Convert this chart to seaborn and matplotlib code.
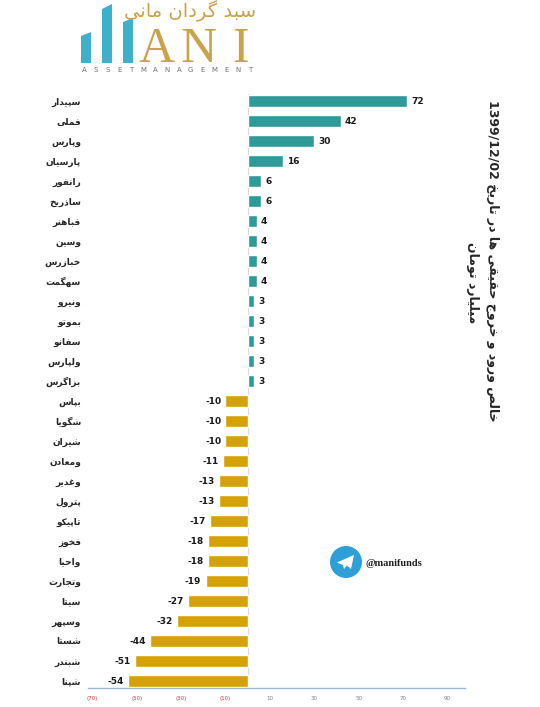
import re
import numpy as np
import pandas as pd
import seaborn as sns
import matplotlib.pyplot as plt
from matplotlib.patches import Polygon, Circle

# net flow of retail money per ticker (billion toman)
tickers = ["سپیدار", "فملی", "وپارس", "پارسیان", "رانفور", "ساذریخ", "فباهنر",
           "وسین", "خبازرس", "سهگمت", "ونیرو", "بموتو", "سفانو", "ولپارس", "بزاگرس",
           "بپاس", "شگویا", "شیران", "ومعادن", "وغدیر", "پترول", "تاپیکو", "فخوز",
           "واحیا", "وتجارت", "سیتا", "وسپهر", "شستا", "شبندر", "شپنا"]
flows = [72, 42, 30, 16, 6, 6, 4, 4, 4, 4, 3, 3, 3, 3, 3,
         -10, -10, -10, -11, -13, -13, -17, -18, -18, -19, -27, -32, -44, -51, -54]
xtick_values = [-70, -50, -30, -10, 10, 30, 50, 70, 90]

title_line1 = "خالص ورود و خروج حقیقی ها در تاریخ 1399/12/02"
title_line2 = "میلیارد تومان"
brand_fa = "سبد گردان مانی"
brand_en = "ASSETMANAGEMENT"
channel = "@manifunds"

TEAL = "#2f9a97"
GOLD = "#d4a106"
LOGO_GOLD = "#c9a24e"
LOGO_BLUE = "#3fb0cc"

# matplotlib has no arabic shaping, so do it by hand with presentation forms
FORMS = {
    "ا": "\uFE8D\uFE8E", "آ": "\uFE81\uFE82",
    "ب": "\uFE8F\uFE90\uFE91\uFE92", "پ": "\uFB56\uFB57\uFB58\uFB59",
    "ت": "\uFE95\uFE96\uFE97\uFE98", "ث": "\uFE99\uFE9A\uFE9B\uFE9C",
    "ج": "\uFE9D\uFE9E\uFE9F\uFEA0", "چ": "\uFB7A\uFB7B\uFB7C\uFB7D",
    "ح": "\uFEA1\uFEA2\uFEA3\uFEA4", "خ": "\uFEA5\uFEA6\uFEA7\uFEA8",
    "د": "\uFEA9\uFEAA", "ذ": "\uFEAB\uFEAC", "ر": "\uFEAD\uFEAE",
    "ز": "\uFEAF\uFEB0", "ژ": "\uFB8A\uFB8B",
    "س": "\uFEB1\uFEB2\uFEB3\uFEB4", "ش": "\uFEB5\uFEB6\uFEB7\uFEB8",
    "ص": "\uFEB9\uFEBA\uFEBB\uFEBC", "ض": "\uFEBD\uFEBE\uFEBF\uFEC0",
    "ط": "\uFEC1\uFEC2\uFEC3\uFEC4", "ظ": "\uFEC5\uFEC6\uFEC7\uFEC8",
    "ع": "\uFEC9\uFECA\uFECB\uFECC", "غ": "\uFECD\uFECE\uFECF\uFED0",
    "ف": "\uFED1\uFED2\uFED3\uFED4", "ق": "\uFED5\uFED6\uFED7\uFED8",
    "ک": "\uFB8E\uFB8F\uFB90\uFB91", "گ": "\uFB92\uFB93\uFB94\uFB95",
    "ل": "\uFEDD\uFEDE\uFEDF\uFEE0", "م": "\uFEE1\uFEE2\uFEE3\uFEE4",
    "ن": "\uFEE5\uFEE6\uFEE7\uFEE8", "و": "\uFEED\uFEEE",
    "ه": "\uFEE9\uFEEA\uFEEB\uFEEC", "ی": "\uFBFC\uFBFD\uFBFE\uFBFF",
}


def shape(word):
    out = []
    for i, ch in enumerate(word):
        f = FORMS.get(ch)
        if f is None:
            out.append(ch)
            continue
        prev = word[i - 1] if i > 0 else ""
        nxt = word[i + 1] if i + 1 < len(word) else ""
        jp = prev in FORMS and len(FORMS[prev]) == 4
        jn = len(f) == 4 and nxt in FORMS
        out.append(f[{(0, 0): 0, (1, 0): 1, (0, 1): 2, (1, 1): 3}[(int(jp), int(jn))]])
    return "".join(out)


def fa(text):
    # visual (left to right) order: reverse runs, reverse letters in persian runs
    runs = re.findall(r"[0-9/]+|[^0-9/]+", text)
    return "".join(r if r[0].isdigit() else shape(r)[::-1] for r in reversed(runs))


sns.set_style("white")
plt.rcParams["font.family"] = ["DejaVu Sans"]

df = pd.DataFrame({
    "name": [fa(t) for t in tickers],
    "flow": flows,
    "side": ["in" if v > 0 else "out" for v in flows],
})

fig = plt.figure(figsize=(5.4, 7.07), dpi=100)
ax = fig.add_axes([88 / 540, 1 - 688 / 707, 377 / 540, 594 / 707])

sns.barplot(data=df, x="flow", y="name", hue="side", palette={"in": TEAL, "out": GOLD},
            dodge=False, width=0.6, saturation=1, legend=False, ax=ax, zorder=2)
for c in ax.containers:
    ax.bar_label(c, padding=3, fontsize=6.5, fontweight="bold", color="#1a1a1a")

ax.axvline(0, color="#d9d9d9", lw=0.8, zorder=1)
ax.set_xlim(-72, 98)
ax.set_ylim(len(tickers) - 0.65, -0.35)
ax.set_xlabel("")
ax.set_ylabel("")
ax.set_xticks(xtick_values)
ax.set_xticklabels([f"({abs(v)})" if v < 0 else str(v) for v in xtick_values], fontsize=4)
for lab, v in zip(ax.get_xticklabels(), xtick_values):
    lab.set_color("#d03030" if v < 0 else "#808080")
ax.tick_params(axis="x", length=0, pad=6)
ax.tick_params(axis="y", length=0, pad=5, labelsize=6.5)
for lab in ax.get_yticklabels():
    lab.set_fontweight("bold")
for s in ["top", "right", "left"]:
    ax.spines[s].set_visible(False)
ax.spines["bottom"].set_color("#9bb7d4")
ax.spines["bottom"].set_linewidth(1.0)

# vertical title on the right
fig.text(493 / 540, 1 - 261 / 707, fa(title_line1), rotation=270, ha="center", va="center",
         fontsize=9, fontweight="bold")
fig.text(473 / 540, 1 - 283 / 707, fa(title_line2), rotation=270, ha="center", va="center",
         fontsize=9, fontweight="bold")

# logo, drawn in reference pixel coordinates
lax = fig.add_axes([75 / 540, 1 - 78 / 707, 195 / 540, 78 / 707])
lax.set_xlim(75, 270)
lax.set_ylim(78, 0)
lax.axis("off")
for x0, top_l, top_r in [(81, 36, 32), (102, 9, 4), (123, 22, 18)]:
    lax.add_patch(Polygon([(x0, 63), (x0 + 10, 63), (x0 + 10, top_r), (x0, top_l)],
                          closed=True, color=LOGO_BLUE, lw=0))
for letter, xc in zip("ANI", [157, 199, 241]):
    lax.text(xc, 62, letter, ha="center", va="baseline", fontsize=36,
             family="Liberation Serif", color=LOGO_GOLD)
lax.text(190, 11, fa(brand_fa), ha="center", va="center", fontsize=14, color=LOGO_GOLD)
for letter, xc in zip(brand_en, np.linspace(84, 250, len(brand_en))):
    lax.text(xc, 70, letter, ha="center", va="center", fontsize=5, color="#707070")

# telegram badge
tax = fig.add_axes([325 / 540, 1 - 585 / 707, 120 / 540, 45 / 707])
tax.set_xlim(325, 445)
tax.set_ylim(585, 540)
tax.axis("off")
cx, cy = 346, 562
tax.add_patch(Circle((cx, cy), 16, color="#2f9fd8", lw=0))
tax.add_patch(Polygon([(cx - 9, cy + 0.5), (cx + 8, cy - 7), (cx + 5, cy + 7),
                       (cx + 1, cy + 3.5), (cx - 2, cy + 7), (cx - 3, cy + 3)],
                      closed=True, color="white", lw=0))
tax.text(366, 563, channel, ha="left", va="center", fontsize=7.5, fontweight="bold",
         family="Liberation Serif", color="#222222")

fig.savefig("out.png", dpi=100)
